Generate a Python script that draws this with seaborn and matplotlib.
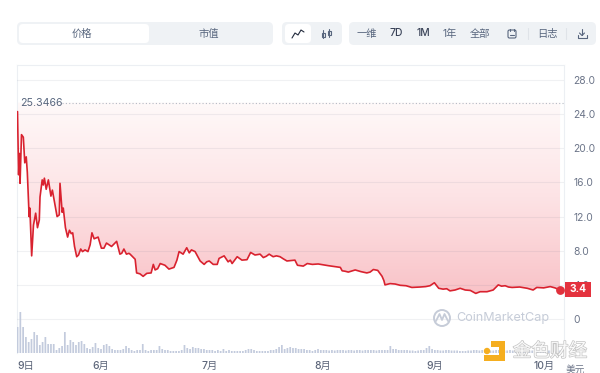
import matplotlib
matplotlib.use("Agg")
import matplotlib.pyplot as plt
import matplotlib.patheffects as pe
from matplotlib.colors import LinearSegmentedColormap
from matplotlib.patches import FancyBboxPatch, Rectangle, Circle
import numpy as np
import seaborn as sns

# days since 9 May, price in USD
days = [0, .3, .5, .7, 1.1, 1.6, 2.0, 2.4, 2.7, 3.2, 3.4, 3.9, 4.4, 5.0, 5.5, 6.0, 6.2, 6.8, 7.1, 7.4,
        7.9, 8.5, 9.2, 9.6, 10.3, 10.9, 11.5, 11.7, 12.3, 12.6, 13.2, 13.8, 14.3, 14.8, 15.2, 15.7, 16.3,
        16.8, 17.4, 17.9, 18.6, 19.4, 20, 20.5, 21.1, 22.2, 23.1, 23.8, 24.5, 25.9, 27.3, 28.2, 28.7, 29.3,
        30, 30.7, 31, 32.4, 32.8, 33.7, 34.6, 35.6, 36.8, 37.4, 37.9, 38.6, 39.3, 40.6, 41.7, 43.1, 43.9,
        44.5, 45.6, 46.6, 47.3, 47.9, 48.9, 50.3, 51.4, 52.1, 52.8, 53.9, 55, 55.5, 56.9, 58, 58.6, 59.1,
        60.5, 61.8, 63.2, 64.2, 65.4, 66.8, 67.7, 68.5, 69.3, 70.4, 71.3, 72.3, 73.2, 74.2, 75.3, 76.4, 77.1,
        78.7, 79.8, 81.2, 82.8, 84.2, 85.6, 87.2, 88.9, 89.4, 90.2, 91.1, 93, 94.6, 96.2, 97.1, 98, 99.2,
        100.4, 100.9, 101.2, 102.6, 104, 105.4, 107, 108.6, 110.9, 112.4, 113.6, 114.8, 116, 117.2, 118.2,
        119.1, 120.5, 121.9, 123.3, 124.7, 126.2, 127.4, 129.3, 131, 132.4, 133.3, 134.3, 135.2, 136.2,
        138.3, 140.4, 142, 143, 144.9, 146.7, 148, 149.4]
price = [24.3, 16.9, 19.4, 15.9, 21.6, 21.3, 18.3, 19, 17.2, 12, 13, 7.4, 11, 12.4, 10.7, 11.6, 14.3, 16.3, 15.7, 16.5,
         15.2, 16.3, 14.4, 15.1, 13.4, 12, 12.2, 15.9, 12.5, 13, 10.7, 9.6, 10.4, 10, 10.1, 8.5, 7.3,
         7.5, 8.2, 7.9, 8.1, 7.9, 8.7, 10.1, 9.4, 9.6, 8.3, 8.3, 8.9, 8.5, 9.1, 7.6, 7.7, 8.2,
         7.6, 7.7, 7.6, 7, 5.4, 5.3, 5, 5.35, 5.4, 6.4, 5.75, 5.9, 6.5, 6.3, 5.85, 6.05, 6.9,
         7.9, 7.6, 8.35, 7.75, 8.1, 7.9, 6.8, 6.4, 6.7, 6.8, 6.4, 6.4, 7.1, 7.4, 6.7, 6.9, 6.5,
         7.3, 6.9, 6.95, 7.8, 7.5, 7.6, 7.2, 7.35, 7.6, 7.3, 7.4, 7.3, 7.05, 6.8, 6.85, 6.9, 6.3,
         6.2, 6.5, 6.4, 6.45, 6.35, 6.25, 6.15, 6.05, 5.65, 5.6, 5.5, 5.75, 5.55, 5.4, 5.5, 5.8, 5.7,
         5, 4.5, 4, 4.15, 4.1, 3.95, 3.9, 3.7, 3.75, 3.8, 3.9, 4.25, 3.6, 3.5, 3.55,
         3.3, 3.4, 3.6, 3.4, 3.35, 3, 3.2, 3.2, 3.4, 4, 3.85, 3.9, 3.75, 3.7,
         3.75, 3.6, 3.4, 3.7, 3.65, 3.8, 3.65, 3.4]

# volume, relative heights of the bars under the chart
volume = [26, 41, 26, 16, 11, 14, 21, 18, 8, 11, 16, 9, 9, 9, 3, 5, 7, 21, 8, 13, 11, 8, 11, 12, 9, 5, 4, 6, 10, 5,
          4, 8, 9, 7, 4, 3, 3, 3, 4, 7, 5, 3, 2, 3, 3, 9, 3, 2, 3, 3, 3, 7, 4, 3, 3, 2,
          2, 2, 2, 3, 8, 5, 4, 6, 5, 5, 4, 4, 3, 3, 3, 2, 3, 2, 4, 2, 3, 2, 2, 2, 2, 2, 3, 4, 4, 3, 2, 2,
          2, 2, 2, 3, 3, 4, 6, 8, 4, 5, 6, 5, 5, 4, 4, 4, 3, 3, 2, 3, 4,
          3, 3, 3, 2.5, 3, 2.5, 3, 3, 3, 2.5, 3, 3, 2.5, 3, 3, 2.5, 3, 3, 3, 3, 2.5, 3, 3, 3, 3, 7, 4, 4, 3, 3, 3, 3, 2.5, 2.5, 2,
          2.5, 3, 3, 5, 7, 4, 3, 3, 2.5, 2.5, 3, 3, 2.5, 2.5, 2.5, 2, 2, 2, 2.5, 2.5, 3, 3, 2.5, 3, 3, 3, 2.5, 2.5, 3, 3, 2.5, 2.5,
          2.5, 3, 2.5, 2.5, 2.5, 2.5, 2, 2.5, 2.5, 2.5, 2, 2.5, 2.5, 2, 2.5, 2.5, 2.5, 2, 2, 2.5]

y_ticks = [0, 4, 8, 12, 16, 20, 24, 28]
y_labels = ["0", "4.0", "8.0", "12.0", "16.0", "20.0", "24.0", "28.0"]
x_ticks = [0, 23, 53, 84, 115, 145]
x_labels = ["9日", "6月", "7月", "8月", "9月", "10月"]
open_price = 25.3466
last_price = 3.4

sns.set_theme(style="white")
plt.rcParams["font.family"] = ["Inter", "Noto Sans CJK SC", "DejaVu Sans"]

W, H = 600, 373
TXT = "#6b7488"

fig = plt.figure(figsize=(6, 3.73), dpi=100, facecolor="white")
ax = fig.add_axes([17 / W, 1 - 353 / H, 547 / W, 288 / H])
ax.set_facecolor("none")

# pink gradient sits above the price line, up to the first price
cmap = LinearSegmentedColormap.from_list("up", ["#fff9f9", "#fde3e5", "#f9c3c8"])
shape = ax.fill_between(days, price, open_price, color="none", linewidth=0)
grad = ax.imshow(np.linspace(0, 1, 256).reshape(-1, 1), cmap=cmap, aspect="auto",
                 extent=[0, days[-1], 3, open_price], origin="upper", zorder=1)
grad.set_clip_path(shape.get_paths()[0], transform=ax.transData)

sns.lineplot(x=days, y=price, ax=ax, color="#d9222f", linewidth=1.2, estimator=None, zorder=3)
ax.scatter([days[-1]], [price[-1]], s=28, color="#e0303c", zorder=4, clip_on=False)
ax.axhline(open_price, xmin=0.082, color="#b5bac4", linewidth=0.8, linestyle=(0, (1, 2)), zorder=2)
ax.text(0.6, open_price, "25.3466", fontsize=7.6, color="#58667e", va="center", ha="left")

ax.set_xlim(-0.14, 150.5)
ax.set_ylim(-3.98, 29.76)
ax.set_yticks(y_ticks)
ax.set_yticklabels(y_labels)
ax.yaxis.tick_right()
ax.set_xticks(x_ticks)
ax.set_xticklabels(x_labels)
ax.xaxis.get_ticklabels()[0].set_ha("left")
ax.tick_params(axis="y", length=0, pad=7, labelsize=7.4, labelcolor=TXT)
ax.tick_params(axis="x", length=0, pad=6, labelsize=7.4, labelcolor="#5d667a")
for lab in ax.get_xticklabels():
    lab.set_fontweight("medium")
ax.grid(axis="y", color="#59657d", alpha=0.09, linewidth=0.8, zorder=2)
ax.set_axisbelow(False)
for side in ["left", "top", "right"]:
    ax.spines[side].set_color("#eceff3")
    ax.spines[side].set_linewidth(0.8)
ax.spines["bottom"].set_visible(False)
ax.set_xlabel("")
ax.set_ylabel("")

# volume bars share the bottom of the plot
ax_vol = fig.add_axes([17 / W, 1 - 353 / H, 545 / W, 60 / H])
ax_vol.patch.set_alpha(0)
sns.barplot(x=list(range(len(volume))), y=volume, ax=ax_vol, color="#c3cbdd", saturation=1,
            width=0.62, linewidth=0)
for bar in ax_vol.patches:
    bar.set_snap(False)
ax_vol.set_xlim(-0.2, len(volume) - 0.3)
ax_vol.set_ylim(0, 60)
ax_vol.axis("off")

# page furniture in pixel coordinates
ui = fig.add_axes([0, 0, 1, 1], zorder=5)
ui.set_xlim(0, W)
ui.set_ylim(H, 0)
ui.axis("off")
ui.patch.set_alpha(0)


def box(x0, y0, x1, y1, color, r=4):
    ui.add_patch(FancyBboxPatch((x0 + r, y0 + r), x1 - x0 - 2 * r, y1 - y0 - 2 * r,
                                boxstyle=f"round,pad={r},rounding_size={r}", fc=color, ec="none"))


box(17, 22, 273, 45, "#eff2f5", 5)
box(19, 24, 149, 43, "white", 4)
box(282, 22, 342, 45, "#eff2f5", 5)
box(285, 24, 311, 43, "white", 4)
box(349, 22, 596, 45, "#eff2f5", 5)

for x, s, c, w in [(82, "价格", "#58667e", "normal"), (209, "市值", "#58667e", "normal"),
                   (367, "一维", "#58667e", "normal"), (396, "7D", "#3a4358", "medium"),
                   (423, "1M", "#3a4358", "medium"), (450, "1年", "#58667e", "normal"),
                   (480, "全部", "#58667e", "normal"), (547, "日志", "#58667e", "normal")]:
    ui.text(x, 33.5, s, fontsize=7.4, color=c, fontweight=w, ha="center", va="center")

# chart type icons, calendar, separators and download
ui.plot([292, 295, 298, 301, 304], [38, 33, 35, 30, 32], color="#222b3d", lw=0.8)
ui.plot([323, 323], [30, 38], color="#58667e", lw=0.8)
ui.plot([329, 329], [29, 37], color="#58667e", lw=0.8)
ui.add_patch(Rectangle((321.5, 33), 3, 4, fc="#eff2f5", ec="#58667e", lw=0.8))
ui.add_patch(Rectangle((327.5, 31), 3, 4, fc="#eff2f5", ec="#58667e", lw=0.8))
ui.add_patch(FancyBboxPatch((508, 30), 8, 8, boxstyle="round,pad=0,rounding_size=1.5",
                            fc="none", ec="#58667e", lw=0.8))
ui.plot([510, 510], [28.5, 31], color="#58667e", lw=0.8)
ui.plot([514, 514], [28.5, 31], color="#58667e", lw=0.8)
ui.plot([510, 514], [35, 35], color="#58667e", lw=0.8)
ui.plot([528, 528], [28, 39], color="#dfe3e8", lw=0.8)
ui.plot([566, 566], [28, 39], color="#dfe3e8", lw=0.8)
ui.plot([582, 582], [29, 35], color="#58667e", lw=0.8)
ui.plot([579.5, 582, 584.5], [33, 35.5, 33], color="#58667e", lw=0.8)
ui.plot([577.5, 577.5, 586.5, 586.5], [35, 38, 38, 35], color="#58667e", lw=0.8)

# last price flag
ui.add_patch(Rectangle((565, 282), 26, 14.5, fc="#e4323e", ec="none"))
ui.text(578, 289.5, "3.4", color="white", fontsize=7.4, fontweight="bold", ha="center", va="center")
ui.text(575, 370, "美元", color=TXT, fontsize=7, ha="center", va="center", clip_on=False)

# CoinMarketCap mark
LOGO = "#c6ccd8"
ui.add_patch(Circle((442, 318), 8, fc="none", ec=LOGO, lw=1.4))
ui.plot([436, 439.5, 442, 444.5, 448], [321, 314, 320, 314, 321], color=LOGO, lw=1.3)
ui.text(456.5, 318.5, "CoinMarketCap", fontsize=9.1, color=LOGO, ha="left", va="center")

# jinse watermark
YEL = "#f5ae1f"
ui.add_patch(Rectangle((491, 341), 14, 6, fc=YEL, ec="none"))
ui.add_patch(Rectangle((499, 341), 6, 20, fc=YEL, ec="none"))
ui.add_patch(Rectangle((484, 355), 21, 6, fc=YEL, ec="none"))
ui.add_patch(Circle((487, 351), 3.2, fc=YEL, ec="none"))
ui.text(550, 352, "金色财经", fontsize=13.4, color="#fafafa", ha="center", va="center",
        path_effects=[pe.withStroke(linewidth=1.0, foreground="#c4c4c4")])

fig.savefig("out.png", dpi=100)
